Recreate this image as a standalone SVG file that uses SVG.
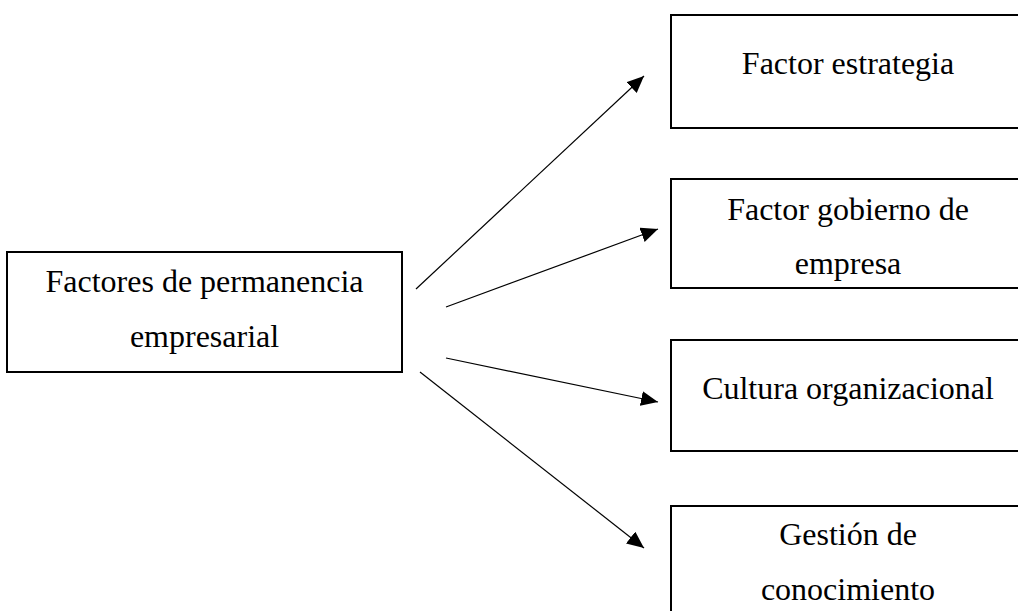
<svg xmlns="http://www.w3.org/2000/svg" width="1018" height="611" viewBox="0 0 1018 611">
<style>
.box{fill:#fff;stroke:#000;stroke-width:2}
.t{font-family:"Liberation Serif","Times New Roman",serif;font-size:32px;fill:#000;text-anchor:middle}
.c{stroke:#000;stroke-width:1.2;fill:none;marker-end:url(#ah)}
</style>
<defs>
<marker id="ah" markerUnits="userSpaceOnUse" markerWidth="18" markerHeight="16" refX="17" refY="7.5" orient="auto">
<path d="M0,0 L17,7.5 L0,15 z" fill="#000"/>
</marker>
</defs>
<rect width="1018" height="611" fill="#fff"/>
<g id="n0">
<rect class="box" x="7" y="252" width="395" height="120"/>
<text class="t" x="204.5" y="292">Factores de permanencia</text>
<text class="t" x="204.5" y="347">empresarial</text>
</g>
<g id="n1">
<rect class="box" x="671" y="15" width="356" height="113"/>
<text class="t" x="848" y="74">Factor estrategia</text>
</g>
<g id="n2">
<rect class="box" x="671" y="179" width="356" height="109"/>
<text class="t" x="848" y="220">Factor gobierno de</text>
<text class="t" x="848" y="274">empresa</text>
</g>
<g id="n3">
<rect class="box" x="671" y="340" width="356" height="111"/>
<text class="t" x="848" y="399">Cultura organizacional</text>
</g>
<g id="n4">
<rect class="box" x="671" y="506" width="356" height="120"/>
<text class="t" x="848" y="545">Gestión de</text>
<text class="t" x="848" y="600">conocimiento</text>
</g>
<g id="connectors">
<line class="c" x1="416" y1="289" x2="644" y2="76"/>
<line class="c" x1="446" y1="307" x2="658" y2="229"/>
<line class="c" x1="446" y1="358" x2="658" y2="402"/>
<line class="c" x1="420" y1="372" x2="644" y2="548"/>
</g>
</svg>
